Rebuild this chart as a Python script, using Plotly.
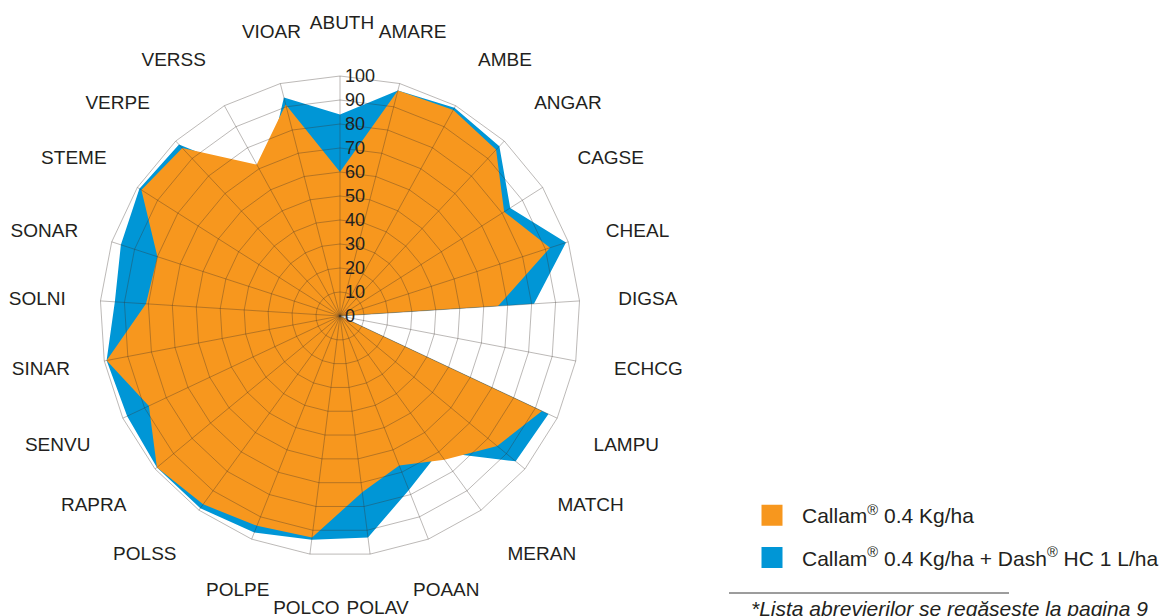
import math
import plotly.graph_objects as go

# ---------------- data ----------------
categories = ["ABUTH", "AMARE", "AMBE", "ANGAR", "CAGSE", "CHEAL", "DIGSA", "ECHCG",
              "LAMPU", "MATCH", "MERAN", "POAAN", "POLAV", "POLCO", "POLPE", "POLSS",
              "RAPRA", "SENVU", "SINAR", "SOLNI", "SONAR", "STEME", "VERPE", "VERSS", "VIOAR"]
callam = [60, 97, 98, 95, 81, 92, 66, 0,
          93, 85, 74, 67, 74, 93, 94, 97,
          99, 88, 99, 81, 80, 98, 96, 72, 91]
callam_dash = [84, 97, 99, 97, 84, 99, 81, 0,
               96, 95, 70, 78, 93, 94, 97, 99,
               99, 98, 99, 94, 96, 99, 98, 65, 94]
radial_ticks = [0, 10, 20, 30, 40, 50, 60, 70, 80, 90, 100]
series_names = ["Callam<sup>®</sup> 0.4 Kg/ha",
                "Callam<sup>®</sup> 0.4 Kg/ha + Dash<sup>®</sup> HC 1 L/ha"]
footnote = "*Lista abrevierilor se regăseste la pagina 9"

# ---------------- styles ----------------
W, H = 1164, 616
ORANGE = "#F7971E"
BLUE = "#0096D6"
TEXT = "#231F20"
GRID = "rgba(60,50,45,0.34)"
FONT = "Liberation Sans, Arial, Helvetica, sans-serif"
R_MAX = 100              # data radial range
R_LAB = 120              # radial range of the (larger) label subplot
LABEL_R = 116.5          # base radial position (axis units) of the category labels
LABEL_EX, LABEL_EY = -1.2, 1.9   # extra label distance (axis units) sideways / up-down

cx, cy, R = 340, 316, 240
R3 = R * R_LAB / R_MAX   # same px-per-unit for the label subplot
LAB_DX, LAB_DY = 2, 2    # small optical offset of the label ring (px)


def dom(rad, dx=0, dy=0):
    x0 = cx + dx
    y0 = cy + dy
    return dict(x=[(x0 - rad) / W, (x0 + rad) / W],
                y=[(H - y0 - rad) / H, (H - y0 + rad) / H])


def closed(v):
    return list(v) + [v[0]]


def label_position(i, n):
    a = (360.0 * i / n) % 360
    if a <= 20 or a >= 340:
        return "top center"
    if 150 <= a <= 210:
        return "bottom center"
    if a < 65:
        return "top right"
    if a <= 110:
        return "middle right"
    if a < 150:
        return "bottom right"
    if a < 250:
        return "bottom left"
    if a <= 295:
        return "middle left"
    return "top left"


def label_radius(i, n):
    t = 2 * math.pi * i / n
    return LABEL_R + LABEL_EX * math.sin(t) ** 2 + LABEL_EY * math.cos(t) ** 2


theta_c = closed(categories)
n = len(categories)

fig = go.Figure()
fig.add_trace(go.Scatterpolar(r=closed(callam_dash), theta=theta_c, mode="lines",
                              fill="toself", fillcolor=BLUE, line=dict(width=0, color=BLUE),
                              showlegend=False, hoverinfo="skip", subplot="polar"))
fig.add_trace(go.Scatterpolar(r=closed(callam), theta=theta_c, mode="lines",
                              fill="toself", fillcolor=ORANGE, line=dict(width=0, color=ORANGE),
                              showlegend=False, hoverinfo="skip", subplot="polar"))
# legend entries
for name, col, grp in [(series_names[0], ORANGE, "a"), (series_names[1], BLUE, "b")]:
    fig.add_trace(go.Scatterpolar(r=[None], theta=[categories[0]], mode="markers",
                                  marker=dict(symbol="square", size=16, color=col,
                                              line=dict(color=col, width=5)),
                                  name=name, legendgroup=grp, subplot="polar2"))
# category labels (own subplot with the same scale, wider range)
fig.add_trace(go.Scatterpolar(r=[label_radius(i, n) for i in range(n)], theta=categories,
                              mode="text", text=categories,
                              textposition=[label_position(i, n) for i in range(n)],
                              textfont=dict(size=19, color=TEXT, family=FONT),
                              cliponaxis=False, showlegend=False, hoverinfo="skip",
                              subplot="polar3"))

ang_common = dict(type="category", categoryorder="array", categoryarray=categories,
                  direction="clockwise", rotation=90)
hidden_radial = dict(showgrid=False, showticklabels=False, ticks="", showline=False)
hidden_angular = dict(**ang_common, showgrid=False, showticklabels=False, ticks="",
                      showline=False)

fig.update_layout(
    width=W, height=H,
    margin=dict(l=0, r=0, t=0, b=0),
    paper_bgcolor="white",
    font=dict(family=FONT, color=TEXT, size=18),
    polar=dict(
        domain=dom(R), bgcolor="white", gridshape="linear",
        radialaxis=dict(range=[0, R_MAX], **hidden_radial),
        angularaxis=hidden_angular,
    ),
    polar2=dict(
        domain=dom(R), bgcolor="rgba(0,0,0,0)", gridshape="linear",
        radialaxis=dict(range=[0, R_MAX], tickvals=radial_ticks, angle=90, tickangle=90,
                        showgrid=True, gridcolor=GRID, gridwidth=1, showline=False,
                        ticks="outside", ticklen=1, tickcolor="rgba(0,0,0,0)",
                        tickfont=dict(size=18, color=TEXT), layer="above traces"),
        angularaxis=dict(**ang_common, showgrid=True, gridcolor=GRID, gridwidth=1,
                         showline=True, linecolor=GRID, linewidth=1,
                         ticks="", showticklabels=False),
    ),
    polar3=dict(
        domain=dom(R3, LAB_DX, LAB_DY), bgcolor="rgba(0,0,0,0)", gridshape="linear",
        radialaxis=dict(range=[0, R_LAB], **hidden_radial),
        angularaxis=hidden_angular,
    ),
    showlegend=True,
    legend=dict(x=742 / W, y=1 - 495 / H, xanchor="left", yanchor="top",
                traceorder="grouped", tracegroupgap=12, itemwidth=50,
                bgcolor="rgba(0,0,0,0)",
                font=dict(size=21, color=TEXT, family=FONT)),
    shapes=[dict(type="line", xref="paper", yref="paper",
                 x0=729 / W, x1=1009 / W, y0=1 - 593 / H, y1=1 - 593 / H,
                 line=dict(color="#3a3a3a", width=1))],
    annotations=[dict(text="<i>" + footnote + "</i>", xref="paper", yref="paper",
                      x=749 / W, y=1 - 608 / H, xanchor="left", yanchor="middle",
                      showarrow=False, font=dict(size=21, color=TEXT, family=FONT))],
)

fig.write_html("out.html", config={"displayModeBar": False},
               post_script="document.body.style.margin='0';document.body.style.padding='0';")
